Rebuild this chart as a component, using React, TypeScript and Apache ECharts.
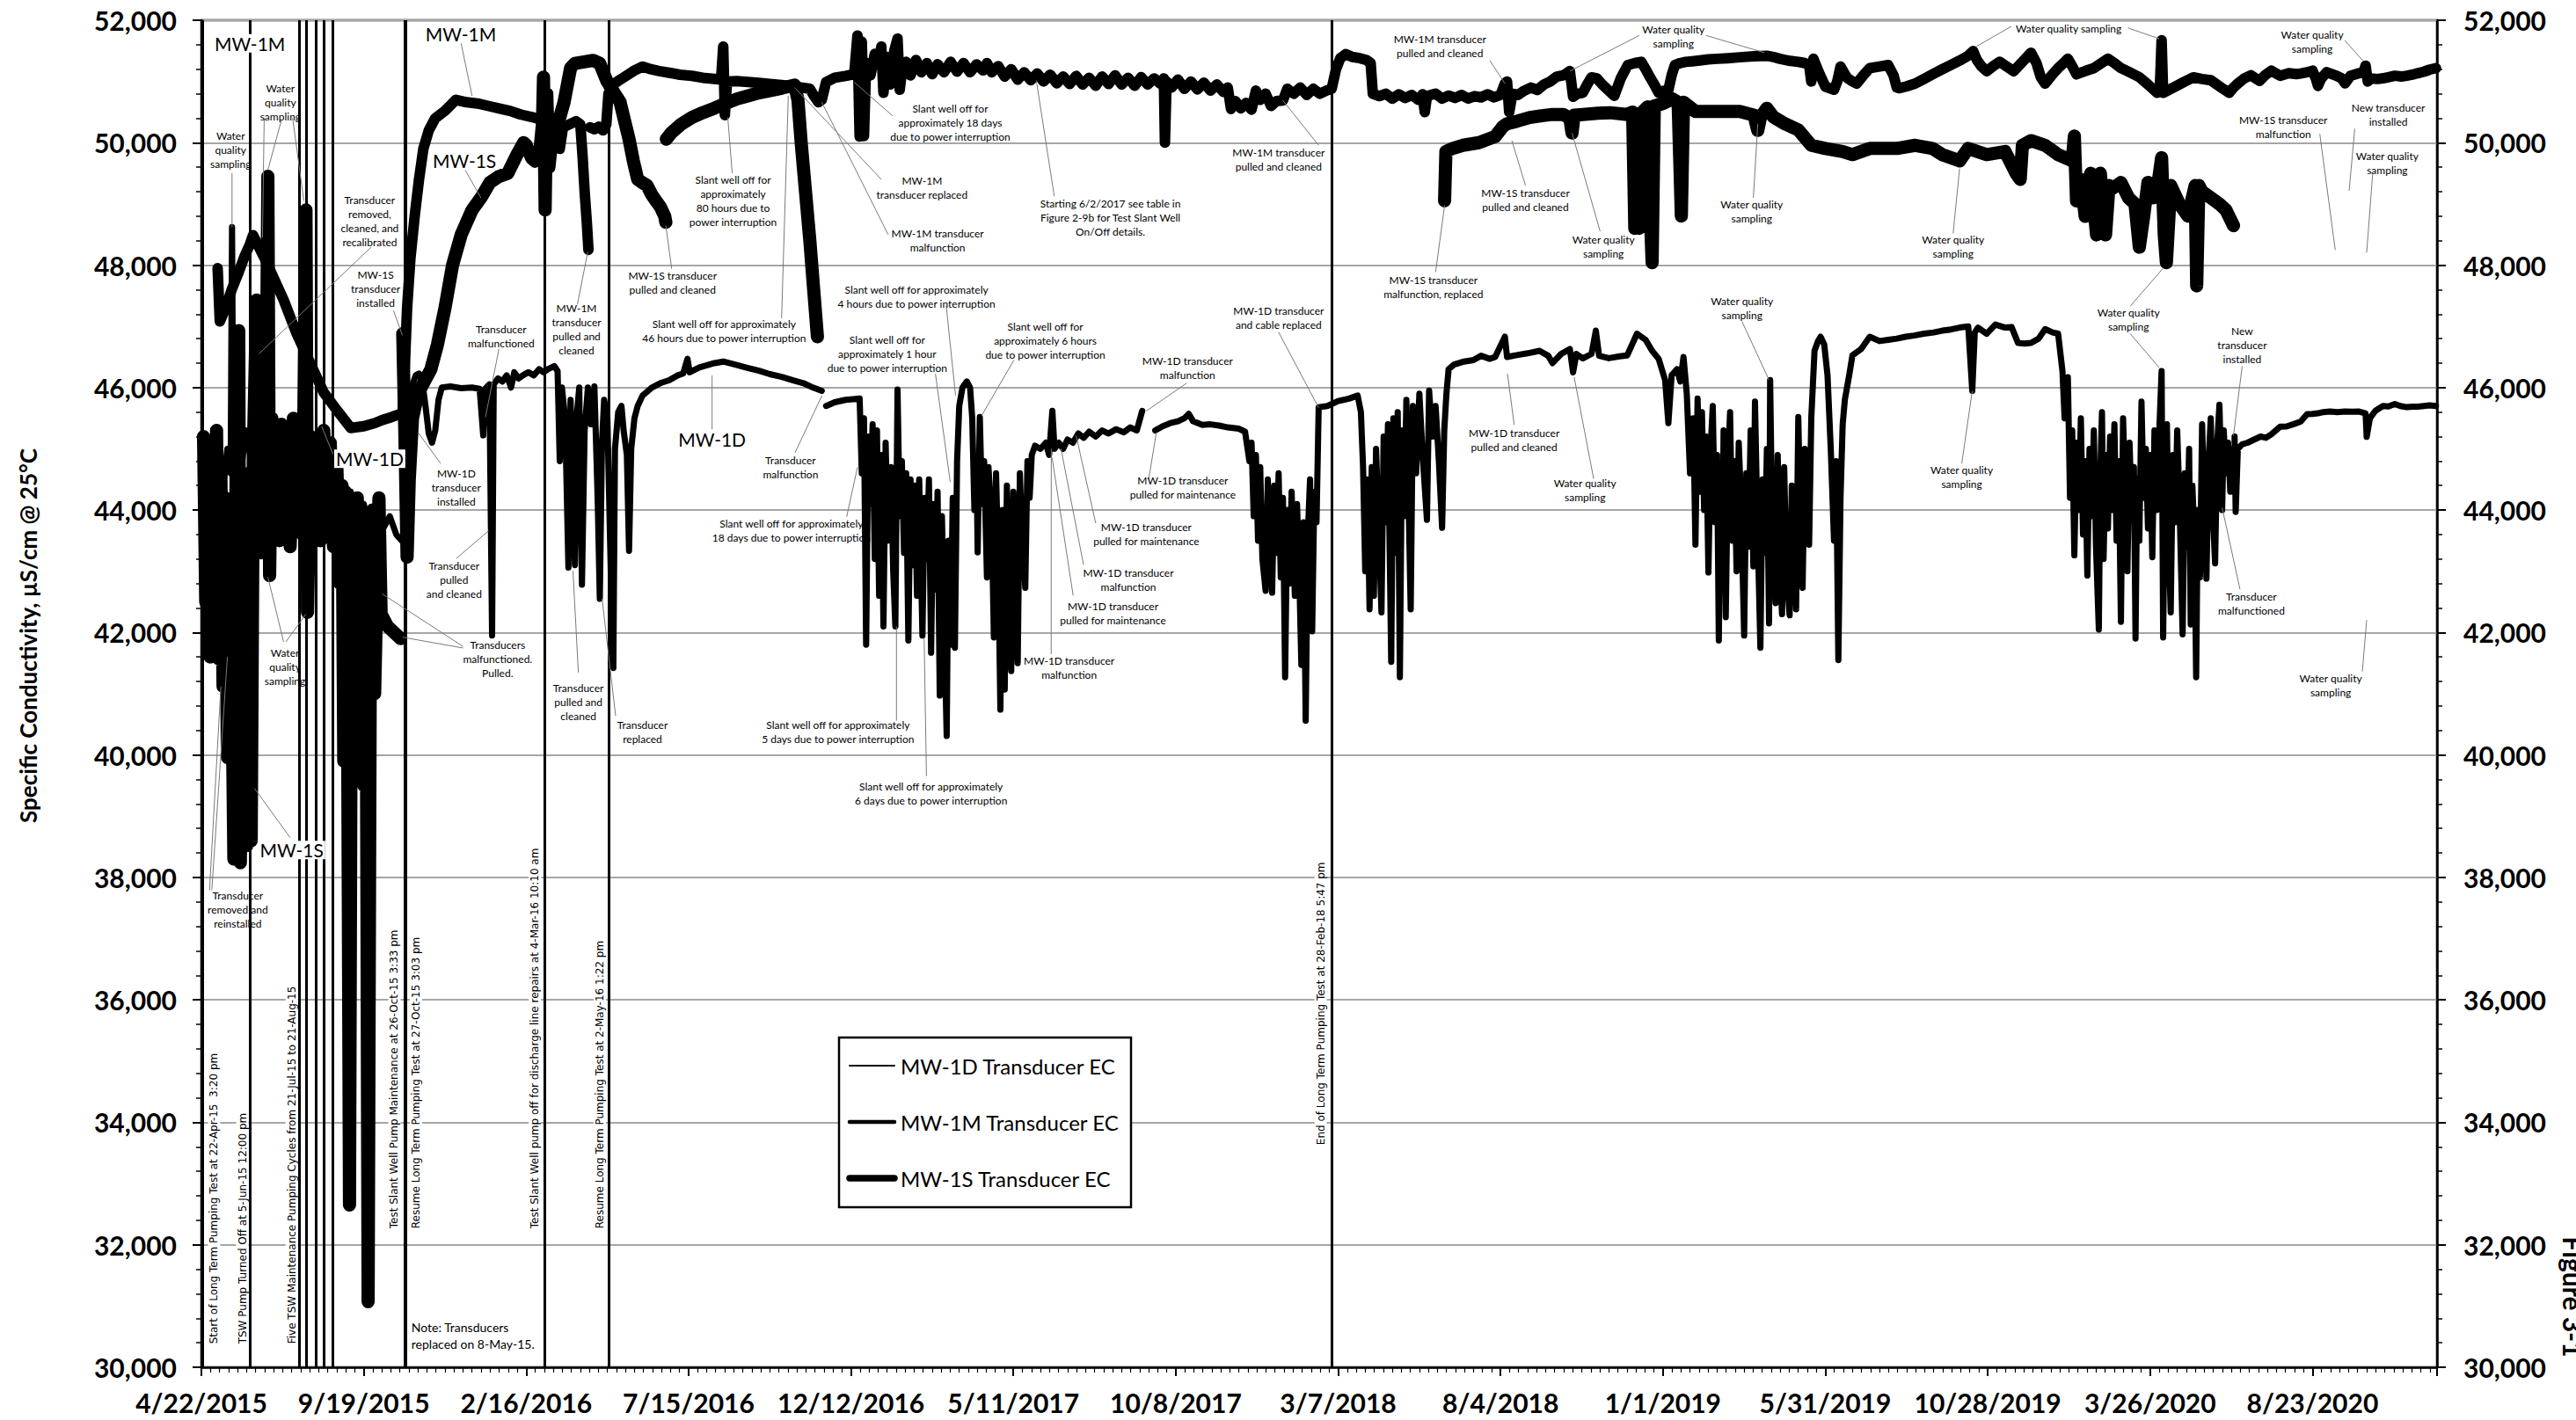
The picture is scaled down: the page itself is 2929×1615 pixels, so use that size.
import React, { useEffect, useRef } from "react";
import * as echarts from "echarts";

// ---------- axis definitions ----------
const TICK_LABELS = [
  "4/22/2015", "9/19/2015", "2/16/2016", "7/15/2016", "12/12/2016", "5/11/2017", "10/8/2017",
  "3/7/2018", "8/4/2018", "1/1/2019", "5/31/2019", "10/28/2019", "3/26/2020", "8/23/2020",
];
const TICK_STEP = 150; // days between date ticks (x is days since 4/22/2015)
const X_MAX = 2065;
const Y_MIN = 30000;
const Y_MAX = 52000;
const Y_STEP = 2000;

const SERIES_NAMES = ["MW-1D Transducer EC", "MW-1M Transducer EC", "MW-1S Transducer EC"];

// ---------- data: [days since 4/22/2015, EC µS/cm] (null = gap) ----------
const MW1D = [
  [2, 44200], [5, 45100], [8, 44300], [11, 45200], [14, 43800], [17, 44900], [20, 44400], [24, 45000], [27, 44600],
  [28.3, 48620], [29.5, 44800], [33, 45200], [37, 44700], [41, 45300], [45, 44900], [50, 45400], [55, 45000],
  [60, 45300], [66, 44800], [72, 45370], [78, 45250], [84, 45100], [90, 45250], [96, 45000], [102, 45150],
  [108, 44900], [114, 45100], [120, 44850], [126, 44600], [132, 43900], [138, 44300], [144, 43600], [150, 44100],
  [156, 43500], [162, 44000], [168, 43700], [174, 43900], [180, 43600], [185, 43500], [186, null],
  [190, 45700], [194, 46000], [198, 46200], [201, 46230], [204, 46100], [207, 45700], [210, 45250], [213, 45100],
  [216, 45300], [219, 45800], [222, 46000], [230, 46020], [240, 45990], [250, 46000], [257, 45980], [260.3, 45220],
  [262, 45980], [266, 46050], [268.5, 41950], [270, 46050], [274, 46150], [278, 46100], [282, 46200], [286, 46000],
  [289, 46250], [293, 46150], [297, 46200], [302, 46250], [307, 46200], [312, 46300], [316, 46250], [320, 46300],
  [326, 46350], [329, 46270], [331, 44800], [333, 46000], [336, 45500], [339, 43060], [341, 45800], [343, 44500],
  [345, 43100], [347, 45600], [349, 46000], [351.5, 42780], [354, 45300], [357, 46000], [360, 45400], [363, 46020],
  [366, 44200], [368, 42550], [370, 45100], [372, 45800], [375, 45500], [378.4, 42780], [379.5, 44500],
  [380.5, 41420], [382, 45000], [385, 45600], [388, 45700], [390, 45300], [393, 44900], [395, 43335], [397, 45000],
  [400, 45500], [403, 45700], [407.5, 45870], [416, 46000], [425, 46080], [432, 46120], [440, 46200], [445, 46230],
  [449, 46470], [451, 46250], [460, 46330], [474, 46400], [482, 46425], [494.5, 46370], [505, 46320], [515, 46275],
  [525, 46220], [536, 46175], [546, 46120], [556, 46072], [565, 46000], [573, 45946], [574, null],
  [577, 45700], [585, 45760], [595, 45800], [602, 45810], [608, 45820],
  [610, 44600], [612, 45500], [614, 41800], [616, 45200], [618, 44100], [620, 45400], [622, 43200], [624, 45300],
  [626, 42600], [628, 44900], [630, 42100], [632, 45100], [634, 43500], [637, 44700], [639, 43000], [641, 42100],
  [643, 45970], [645, 43900], [647, 44800], [649, 43300], [651, 44600], [653, 41870], [655, 44500], [657, 43100],
  [659, 44400], [661, 42600], [663, 44500], [666, 41950], [668, 44200], [670, 43200], [672, 44500], [674, 41670],
  [676, 44100], [678, 42700], [680, 44300], [682, 40970], [684, 43900], [686, 42200], [688.4, 40310], [690, 43500],
  [692, 41800], [694, 44200], [696, 41750], [698, 44800], [700, 45700], [703, 46000], [707, 46100], [710, 46000],
  [712, 45500], [714, 44000], [716, 44800], [717, 43310], [719, 45520], [721, 44100], [723, 44800], [725.6, 42900],
  [727, 44700], [730, 43800], [732, 41920], [734, 44600], [736, 43200], [738, 40740], [740, 44000], [742, 41070],
  [744, 44400], [746, 42500], [748, 41370], [750, 44300], [752, 42300], [754, 41500], [756, 44600], [758, 43600],
  [761, 42730], [763, 44800], [765, 44200], [767, 44900], [770, 45050], [775, 45000], [780, 45100], [783, 44900],
  [786, 45620], [788, 45000], [792, 45100], [796, 45000], [800, 45150], [805, 45100], [810, 45250], [815, 45180],
  [820, 45280], [826, 45200], [832, 45300], [838, 45250], [845, 45320], [852, 45270], [858, 45350], [864, 45300],
  [869, 45620], [870, null],
  [881, 45300], [888, 45370], [895, 45420], [902, 45450], [908, 45500], [912, 45570], [916, 45450], [924.5, 45390],
  [932, 45400], [940, 45380], [948, 45350], [958, 45330], [964, 45280], [968, 44800], [970, 45100], [972, 43900],
  [974, 44900], [976, 43500], [978, 44700], [980, 43200], [983, 42680], [985, 44500], [987, 43600], [989, 42650],
  [991, 44400], [993, 43300], [995, 44600], [997, 42900], [999, 44200], [1001, 41270], [1003, 44000], [1005, 42800],
  [1007, 44300], [1010, 42600], [1012, 44100], [1014, 43000], [1016, 41470], [1018, 43800], [1020, 40560],
  [1022, 43600], [1024, 44500], [1026, 42020], [1028, 44300], [1030, 43800], [1032, 45680], [1040, 45700],
  [1050, 45780], [1060, 45820], [1068, 45870], [1071, 45600], [1073, 44700], [1075, 43000], [1077, 44500],
  [1079, 42380], [1081, 44700], [1083, 42600], [1085, 45000], [1088, 43400], [1090, 42330], [1092, 45200],
  [1094, 43800], [1096, 45400], [1099, 41520], [1101, 45500], [1103, 43300], [1105, 45600], [1107, 41270],
  [1109, 45300], [1111, 43900], [1113, 45800], [1115, 44200], [1117, 42380], [1119, 45700], [1122, 44600],
  [1125, 45900], [1128, 44900], [1132, 43840], [1134, 45950], [1137, 45200], [1140, 45700], [1143, 44800],
  [1146, 43710], [1148, 45300], [1150, 45900], [1152, 46300], [1157, 46375], [1165, 46420], [1175, 46450],
  [1182, 46520], [1190, 46470], [1195, 46500], [1204, 46830], [1206, 46500], [1215, 46530], [1225, 46560],
  [1236, 46600], [1244, 46520], [1248, 46400], [1256, 46550], [1264, 46630], [1267, 46250], [1270, 46550],
  [1276, 46476], [1284, 46550], [1288, 46930], [1291, 46520], [1300, 46480], [1310, 46510], [1317, 46526],
  [1326, 46880], [1334, 46780], [1340, 46600], [1346, 46470], [1352, 46123], [1355, 45420], [1358, 46200],
  [1363, 46300], [1366, 46100], [1369, 46500], [1372, 45900],
  [1375, 44600], [1378, 45500], [1380, 43435], [1382, 45820], [1384, 44300], [1386, 45600], [1388, 44000],
  [1390, 45200], [1392, 42980], [1394, 45000], [1396, 45700], [1398, 43800], [1400, 44900], [1401.6, 41870],
  [1403, 44500], [1405, 43200], [1406, 45300], [1408, 42250], [1410, 44700], [1412, 45600], [1414, 43500],
  [1416, 44800], [1418, 43000], [1420, 45100], [1422, 44200], [1425, 41950], [1427, 44600], [1429, 43400],
  [1431, 45300], [1433.5, 43080], [1435, 45770], [1437, 44000], [1440, 41750], [1442, 44500], [1444, 43300],
  [1446, 45000], [1448, 42150], [1449, 46123], [1451, 43600], [1454, 42480], [1456, 44900], [1458, 43100],
  [1460, 42300], [1462, 44700], [1464, 43000], [1467, 42280], [1469, 44400], [1471, 43600], [1473, 42380],
  [1475, 45520], [1477, 43800], [1479, 42730], [1481, 45000], [1483, 44000], [1485, 43435], [1487, 45500],
  [1490, 46600], [1493, 46750], [1495.6, 46830], [1499, 46700], [1502, 46200], [1505, 45000], [1508, 43500],
  [1510, 44800], [1512, 41550], [1514, 44200], [1516, 45400], [1518, 45800], [1522, 46200], [1525, 46526],
  [1533, 46630], [1541, 46830], [1550, 46760], [1558, 46780], [1566, 46800], [1574, 46830], [1582, 46850],
  [1591, 46880], [1600, 46900], [1608, 46930], [1616, 46950], [1624, 46980], [1632, 47000], [1635.7, 45946],
  [1638, 46900], [1641, 46980], [1649, 46880], [1657, 47030], [1666, 46980], [1672, 46990], [1678, 46728],
  [1684, 46720], [1690, 46730], [1697, 46800], [1703, 46955], [1710, 46900], [1715, 46880], [1719, 46270],
  [1721, 45500], [1724, 46170], [1726, 44200], [1728, 45300], [1730, 43260], [1732, 45100], [1734, 44000],
  [1736, 45500], [1738, 43600], [1740, 44800], [1742, 42930], [1744, 45000], [1746, 43900], [1748, 45300],
  [1750, 43400], [1752.6, 42050], [1754, 44600], [1755.5, 45600], [1757, 43200], [1759, 44900], [1761, 43700],
  [1763, 45200], [1765, 44000], [1767, 45400], [1769, 43500], [1771, 44800], [1773, 42175], [1775, 45500],
  [1777, 44300], [1779, 43000], [1781, 45100], [1783, 43900], [1785, 44700], [1786.5, 41900], [1788, 44500],
  [1790, 43500], [1792, 45770], [1794, 44200], [1796, 45000], [1798, 43700], [1800, 44900], [1802, 43230],
  [1804, 45300], [1806, 44000], [1808, 45100], [1810.6, 46270], [1812, 41920], [1814, 44800], [1815.5, 45400],
  [1817, 43600], [1819, 42330], [1821, 44900], [1823, 43800], [1825, 45300], [1827, 44200], [1830, 41970],
  [1832, 44600], [1834, 43400], [1836, 45000], [1837.5, 42130], [1839, 44400], [1841, 43500], [1842.5, 41270],
  [1844, 44000], [1846, 42900], [1848, 45400], [1850, 44100], [1852, 42880], [1854, 44800], [1856, 45500],
  [1858, 43900], [1860, 43130], [1862, 45100], [1864, 45720], [1866.5, 44000], [1868, 45300], [1870, 44600],
  [1872, 45100], [1874, 44300], [1876, 45000], [1877, null],
  [1878, 45200], [1879, 43970], [1881, 45000], [1885, 45073], [1890, 45100], [1896, 45150], [1902, 45200],
  [1907, 45180], [1912, 45238], [1916, 45300], [1920, 45361], [1926, 45366], [1932, 45400], [1939, 45444],
  [1945, 45567], [1950, 45570], [1955, 45580], [1960, 45600], [1966, 45609], [1973, 45600], [1980, 45610],
  [1987, 45605], [1993, 45609], [1999, 45580], [2000, 45196], [2003, 45500], [2008, 45620], [2015, 45700],
  [2020, 45691], [2026, 45732], [2031, 45700], [2037, 45680], [2043, 45690], [2047, 45690], [2053, 45700],
  [2058, 45710], [2064, 45700],
];

const MW1M = [
  [15, 47950], [17, 47080], [22, 47280], [28, 47600], [34.5, 47890], [40, 48150], [44.8, 48340], [47.7, 48490],
  [53, 48300], [59, 48090], [65.5, 47840], [76, 47430], [88, 46880], [101, 46380], [113, 45920], [125.6, 45620],
  [138, 45340], [150, 45370], [160, 45420], [167, 45470], [176, 45520], [183.6, 45570], [186, 45600], [188, 46400],
  [190, 47300], [193, 48100], [197, 48800], [201, 49400], [205, 49900], [210, 50200], [216, 50400], [225, 50520],
  [235, 50700], [245, 50660], [255, 50640], [265, 50600], [275, 50560], [285, 50520], [295, 50460], [305, 50420],
  [313, 50380], [318, 50300], [322, 50150], [325, 50350], [328, 50200], [331, 49900], [334, 50250], [340, 50300],
  [346, 50350], [350, 50300], [352, 49800], [354, 49200], [356, 48700], [357.5, 48250], [358, null],
  [359, 50250], [363, 50220], [367, 50260], [371, 50200], [374, 50300], [376, 50800], [380, 50950], [386, 51020],
  [393, 51100], [400, 51180], [407.5, 51243], [415, 51200], [423, 51170], [432, 51142], [442, 51110], [453, 51092],
  [463, 51060], [474, 51041], [480, 51030], [482, 51570], [483.5, 50450], [485.5, 51000], [494.5, 51006],
  [505, 50990], [515, 50976], [525, 50960], [536, 50940], [548, 50915], [555, 50900], [562, 50880], [566, 50760],
  [570, 50660], [573, 50700], [577, 50990], [585, 51060], [595, 51090], [603, 51120], [606, 51750], [608, 50100],
  [610, 51650], [612, 50108], [614, 51300], [618, 51100], [622, 51450], [626, 51300], [628, 51570], [630, 50815],
  [633, 51400], [636, 50950], [640, 51500], [643, 51700], [645, 50865], [648, 51300], [651, 51320], [655, 51100],
  [660, 51350], [665, 51150], [670, 51300], [675, 51120], [680, 51280], [686, 51150], [692, 51320], [698, 51160],
  [704, 51300], [710, 51150], [716, 51280], [722, 51180], [725.6, 51300], [730, 51150], [736, 51250], [742, 51080],
  [748, 51200], [754, 51030], [760, 51150], [766, 51020], [772, 51130], [778, 51000], [784, 51110], [790, 50970],
  [796, 51080], [802, 50960], [808, 51090], [814, 50950], [820, 51060], [826, 50930], [832, 51080], [838, 50960],
  [844, 51100], [850, 50950], [856, 51060], [862, 50930], [868, 51070], [874, 50950], [880, 51050], [886, 50960],
  [889, 51050], [890, 50000], [891.5, 51000], [896, 50900], [902, 51030], [908, 50880], [914, 51000], [920, 50870],
  [926, 50980], [932, 50850], [938, 50950], [944, 50830], [948, 50900], [951, 50550], [955, 50680], [960, 50560],
  [965, 50650], [970, 50540], [974, 50850], [978, 50700], [983, 50800], [988, 50600], [993, 50680], [999, 50690],
  [1003, 50880], [1009, 50800], [1015, 50900], [1021, 50780], [1027, 50880], [1033, 50800], [1039, 50850],
  [1044, 50880], [1048, 51200], [1052, 51380], [1057, 51445], [1063, 51400], [1070, 51380], [1076, 51350],
  [1080, 51300], [1082, 50800], [1088, 50760], [1094, 50800], [1100, 50720], [1106, 50790], [1112, 50730],
  [1118, 50780], [1124, 50700], [1128, 50790], [1130, 50500], [1132, 50760], [1140, 50800], [1146, 50720],
  [1152, 50770], [1158, 50730], [1164, 50780], [1170, 50720], [1176, 50760], [1182, 50740], [1188, 50790],
  [1194, 50740], [1200, 50780], [1204, 50966], [1206, 51000], [1208, 50500], [1211, 50800], [1216, 50780],
  [1222, 50850], [1228, 50900], [1234, 50860], [1240, 50950], [1246, 51000], [1252, 51080], [1258, 51100],
  [1264, 51170], [1267, 50750], [1271, 50800], [1276, 50814], [1280, 50950], [1284, 51067], [1289, 51050],
  [1294, 50950], [1300, 50850], [1305, 50764], [1311, 51050], [1317.5, 51268], [1324, 51300], [1330, 51320],
  [1334, 51200], [1338, 51070], [1342, 50950], [1346, 50814], [1351, 50850], [1355, 50860], [1358, 51100],
  [1361, 51268], [1366, 51300], [1371, 51320], [1377, 51330], [1384, 51344], [1392, 51360], [1400, 51370],
  [1410, 51380], [1421, 51395], [1434, 51410], [1446, 51420], [1452, 51400], [1458, 51370], [1466, 51340],
  [1475, 51320], [1481, 51300], [1485, 51270], [1487, 51000], [1489, 51370], [1494, 51150], [1500, 50915],
  [1504, 50890], [1508, 50865], [1511, 51000], [1514, 51243], [1517, 51150], [1520, 51060], [1525, 51000],
  [1529, 50966], [1535, 51100], [1541, 51218], [1549, 51240], [1558, 51268], [1563, 51100], [1566, 50900],
  [1568, 50890], [1575, 50920], [1583, 50966], [1591, 51040], [1599, 51117], [1607, 51190], [1616, 51268],
  [1624, 51340], [1632, 51420], [1636.5, 51496], [1640, 51350], [1644, 51250], [1649, 51168], [1655, 51250],
  [1661, 51320], [1667, 51250], [1674, 51168], [1682, 51320], [1690, 51470], [1695, 51300], [1699, 51070],
  [1703, 50966], [1709, 51100], [1715, 51218], [1720, 51300], [1724, 51370], [1728, 51250], [1732, 51117],
  [1740, 51170], [1748, 51218], [1755, 51300], [1761, 51370], [1767, 51300], [1773, 51218], [1781, 51150],
  [1790, 51070], [1798, 50950], [1806.5, 50814], [1809, 50900], [1810.6, 51672], [1812, 50814], [1817, 50860],
  [1823, 50915], [1831, 50990], [1840, 51067], [1848, 51040], [1856, 51020], [1864, 50920], [1873, 50814],
  [1877, 50900], [1881, 50966], [1887, 51050], [1893, 51100], [1901, 51010], [1906, 51100], [1912, 51175],
  [1920, 51093], [1928, 51134], [1935, 51120], [1939, 51130], [1945, 51150], [1950, 51175], [1953, 51050],
  [1955, 50928], [1958, 51050], [1963, 51150], [1972, 51093], [1977, 51050], [1980, 50969], [1985, 51093],
  [1993, 51134], [1997, 51150], [1999, 51258], [2001, 51000], [2004, 51050], [2010, 51040], [2015, 51052],
  [2020, 51070], [2026, 51093], [2032, 51080], [2037, 51093], [2042, 51110], [2047, 51134], [2053, 51160],
  [2058, 51192], [2064, 51217],
];

const MW1S = [
  [2, 45200], [4, 42500], [6, 45000], [8, 41600], [10, 44800], [12, 41800], [14, 45300], [16, 41570], [18, 44600],
  [20, 41120], [22, 44200], [24, 39960], [26, 43800], [28, 41500], [30, 38300], [32, 44500], [34.5, 46930],
  [36, 38240], [38, 44000], [40, 41500], [42, 38520], [44, 44600], [46, 38600], [48, 45000], [51, 47430],
  [53, 44800], [55, 43300], [57, 45200], [59, 43600], [61.4, 49450], [63, 42930], [65, 45500], [67, 43700],
  [69, 45300], [72, 43500], [74, 45400], [77, 43800], [80, 45200], [82, 43400], [85, 45500], [88, 43900],
  [91, 45300], [93.5, 43600], [96.6, 48900], [98, 42330], [101, 45200], [104, 43700], [107, 45000], [110, 43500],
  [113, 45300], [116, 43900], [119, 45100], [122, 43400], [125, 44800], [128, 42800], [130, 44400], [131.5, 39900],
  [133, 44300], [135, 40800], [136.8, 32650], [138.5, 42000], [140, 44000], [142, 40900], [144, 44200],
  [146, 40500], [148, 43800], [150, 39500], [152, 43000], [154, 31070], [156, 41500], [158, 44000], [160, 41000],
  [162, 42630], [164, 44200], [166, 42300], [172, 42100], [178, 42000], [184, 41900], [185, null],
  [186, 46880], [188, 45200], [190, 43230], [192, 44500], [195, 45500], [200, 45900], [206, 46100], [212, 46300],
  [218, 46700], [225, 47300], [232, 48000], [240, 48500], [250, 48900], [258.2, 49100], [266.5, 49350],
  [275, 49450], [283, 49500], [291.4, 49800], [297.6, 50000], [300, 49960], [305, 49750], [308, 49700],
  [312, 49750], [315, 50300], [316, 51070], [317.5, 48900], [319, 50800], [321, 49600], [324, 50100],
  [330, 50350], [335, 50663], [341, 51218], [345, 51294], [353.5, 51319], [361.8, 51344], [368, 51294],
  [372, 51117], [374.3, 51016], [380, 50850], [386.7, 50663], [391, 50350], [395, 50058], [399, 49700],
  [403, 49402], [407, 49350], [411.6, 49301], [416, 49150], [419.9, 49049], [424, 48950], [428, 48796],
  [429, 48700], [429.2, null],
  [429.5, 50058], [434, 50160], [443, 50300], [453, 50411], [463, 50490], [474, 50565], [484, 50640],
  [494.5, 50713], [505, 50765], [515, 50814], [525, 50850], [536, 50890], [548, 50940], [551, 50700],
  [554, 50000], [558, 49200], [562, 48400], [566, 47500], [569, 46830], [570, null],
  [1148.3, 49050], [1149.5, 49856], [1155, 49900], [1165, 49957], [1180, 50000], [1195, 50100], [1202, 50260],
  [1206, 50310], [1215, 50350], [1227, 50411], [1238, 50440], [1248, 50461], [1258, 50460], [1264, 50400],
  [1266, 50158], [1268, 50450], [1276, 50461], [1290, 50480], [1301, 50490], [1317, 50461], [1322, 50500],
  [1324, 48600], [1326, 50200], [1328, 48600], [1331, 50500], [1336, 50587], [1338, 49000], [1340, 48040],
  [1342, 50600], [1350, 50640], [1359, 50714], [1364, 50660], [1367, 48800], [1369, 50660], [1380, 50511],
  [1400, 50511], [1421, 50511], [1434, 50450], [1437.6, 50200], [1440, 50411], [1446, 50562], [1452, 50420],
  [1462.5, 50310], [1475, 50209], [1487, 49957], [1500, 49906], [1516, 49856], [1525, 49805], [1541, 49906],
  [1566, 49906], [1583, 49957], [1599, 49906], [1608, 49805], [1624, 49705], [1632, 49906], [1649, 49805],
  [1666, 49856], [1676, 49503], [1680, 49400], [1682, 49957], [1690, 50033], [1703, 49957], [1715, 49805],
  [1728, 49705], [1730, 50108], [1732, 49050], [1736, 49400], [1740, 48796], [1745, 49500], [1750.5, 48494],
  [1754, 49500], [1758.8, 48494], [1762, 49300], [1765, 49250], [1773, 49350], [1780, 49100], [1786, 49000],
  [1790, 48293], [1794, 48796], [1798, 49350], [1803, 49100], [1807, 49300], [1810.6, 49755], [1813, 48500],
  [1815, 48040], [1819, 49300], [1827, 49000], [1835, 48800], [1841.6, 49300], [1843, 47661], [1845, 49300],
  [1848, 49200], [1856, 49100], [1864, 48998], [1870, 48900], [1877, 48645],
];

// ---------- event lines (days since 4/22/2015) ----------
const EVENT_DAYS = [0.64, 44.5, 90, 97, 106, 113, 121, 187.65, 188.63, 317.42, 376.56, 1043.74];
const EVENT_LABELS = [
  { text: "Start of Long Term Pumping Test at 22-Apr-15  3:20 pm", d: 11.7, v: 30340 },
  { text: "TSW Pump Turned Off at 5-Jun-15 12:00 pm", d: 37.8, v: 30340 },
  { text: "Five TSW Maintenance Pumping Cycles from 21-Jul-15 to 21-Aug-15", d: 83.4, v: 30340 },
  { text: "Test Slant Well Pump Maintenance at 26-Oct-15 3:33 pm", d: 178.3, v: 32222 },
  { text: "Resume Long Term Pumping Test at 27-Oct-15 3:03 pm", d: 198.2, v: 32222 },
  { text: "Test Slant Well pump off for discharge line repairs at 4-Mar-16 10:10 am", d: 308, v: 32222 },
  { text: "Resume Long Term Pumping Test at 2-May-16 1:22 pm", d: 368, v: 32222 },
  { text: "End of Long Term Pumping Test at 28-Feb-18 5:47 pm", d: 1033.8, v: 33588 },
];

// ---------- series name labels ----------
const BIG_LABELS = [
  { text: "MW-1M", d: 44.8, v: 51622 },
  { text: "MW-1M", d: 239.6, v: 51773 },
  { text: "MW-1S", d: 243, v: 49705 },
  { text: "MW-1S", d: 83.4, v: 38446 },
  { text: "MW-1D", d: 155.5, v: 44836 },
  { text: "MW-1D", d: 471.7, v: 45164 },
];

// ---------- annotation notes ----------
const NOTES = [
  { text: "Water\nquality\nsampling", d: 27, v: 49881 },
  { text: "Water\nquality\nsampling", d: 73, v: 50663 },
  { text: "Transducer\nremoved,\ncleaned, and\nrecalibrated", d: 155.5, v: 48720 },
  { text: "MW-1S\ntransducer\ninstalled", d: 160.9, v: 47611 },
  { text: "Transducer\nmalfunctioned", d: 276.9, v: 46839 },
  { text: "MW-1M\ntransducer\npulled and\ncleaned", d: 346.5, v: 46955 },
  { text: "MW-1S transducer\npulled and cleaned", d: 435.2, v: 47712 },
  { text: "Slant well off for\napproximately\n80 hours due to\npower interruption", d: 491.1, v: 49049 },
  { text: "Slant well off for approximately\n46 hours due to power interruption", d: 482.8, v: 46930 },
  { text: "Transducer\nmalfunction", d: 544.2, v: 44695 },
  { text: "MW-1D\ntransducer\ninstalled", d: 235.5, v: 44368 },
  { text: "Transducer\npulled\nand cleaned", d: 233.4, v: 42856 },
  { text: "Transducers\nmalfunctioned.\nPulled.", d: 273.6, v: 41561 },
  { text: "Water\nquality\nsampling", d: 77.2, v: 41435 },
  { text: "Transducer\nremoved and\nreinstalled", d: 33.6, v: 37478 },
  { text: "Transducer\npulled and\ncleaned", d: 348.2, v: 40870 },
  { text: "Transducer\nreplaced", d: 407.4, v: 40371 },
  { text: "Slant well off for approximately\n18 days due to power interruption", d: 545, v: 43662 },
  { text: "Slant well off for approximately\n5 days due to power interruption", d: 588, v: 40375 },
  { text: "Slant well off for approximately\n6 days due to power interruption", d: 674, v: 39376 },
  { text: "Slant well off for approximately\n4 hours due to power interruption", d: 660.5, v: 47490 },
  { text: "Slant well off for\napproximately 1 hour\ndue to power interruption", d: 633.5, v: 46548 },
  { text: "Slant well off for\napproximately 6 hours\ndue to power interruption", d: 779.5, v: 46763 },
  { text: "MW-1D transducer\nmalfunction", d: 910.9, v: 46324 },
  { text: "MW-1D transducer\npulled for maintenance", d: 906.5, v: 44372 },
  { text: "MW-1D transducer\npulled for maintenance", d: 872.8, v: 43612 },
  { text: "MW-1D transducer\nmalfunction", d: 856.2, v: 42866 },
  { text: "MW-1D transducer\npulled for maintenance", d: 842, v: 42317 },
  { text: "MW-1D transducer\nmalfunction", d: 801.5, v: 41430 },
  { text: "Starting 6/2/2017 see table in\nFigure 2-9b for Test Slant Well\nOn/Off details.", d: 839.6, v: 48771 },
  { text: "Slant well off for\napproximately 18 days\ndue to power interruption", d: 691.7, v: 50325 },
  { text: "MW-1M\ntransducer replaced", d: 665.6, v: 49261 },
  { text: "MW-1M transducer\nmalfunction", d: 680, v: 48403 },
  { text: "MW-1M transducer\npulled and cleaned", d: 995, v: 49720 },
  { text: "MW-1M transducer\npulled and cleaned", d: 1144, v: 51581 },
  { text: "MW-1S transducer\nmalfunction, replaced", d: 1138, v: 47646 },
  { text: "MW-1S transducer\npulled and cleaned", d: 1223, v: 49064 },
  { text: "MW-1D transducer\nand cable replaced", d: 995, v: 47137 },
  { text: "MW-1D transducer\npulled and cleaned", d: 1212.6, v: 45139 },
  { text: "Water quality\nsampling", d: 1295, v: 48300 },
  { text: "Water quality\nsampling", d: 1278, v: 44318 },
  { text: "Water quality\nsampling", d: 1359.7, v: 51733 },
  { text: "Water quality\nsampling", d: 1432, v: 48882 },
  { text: "Water quality\nsampling", d: 1618, v: 48302 },
  { text: "Water quality sampling", d: 1724.8, v: 51864 },
  { text: "Water quality\nsampling", d: 1423, v: 47293 },
  { text: "Water quality\nsampling", d: 1626, v: 44544 },
  { text: "Water quality\nsampling", d: 1780, v: 47106 },
  { text: "New\ntransducer\ninstalled", d: 1885, v: 46693 },
  { text: "Transducer\nmalfunctioned", d: 1893.5, v: 42478 },
  { text: "MW-1S transducer\nmalfunction", d: 1923, v: 50262 },
  { text: "New transducer\ninstalled", d: 2020, v: 50458 },
  { text: "Water quality\nsampling", d: 2019, v: 49666 },
  { text: "Water quality\nsampling", d: 1949.7, v: 51654 },
  { text: "Water quality\nsampling", d: 1966.8, v: 41130 },
];

// leader lines: [fromDay, fromValue, toDay, toValue]
const LEADERS = [
  [239.6, 51647, 250, 50764], [243.7, 49553, 258.2, 49099], [82.1, 38648, 49, 39455], [121.5, 44912, 111.1, 45366],
  [471.7, 45315, 471.7, 46198], [28.3, 49503, 28.3, 48620], [58, 50400, 56.4, 48450], [73.8, 50360, 61.4, 49553],
  [84.2, 50410, 94.6, 49050], [156.7, 48292, 53.1, 46551], [177.4, 47258, 185.7, 46854], [274.8, 46627, 262.4, 45518],
  [347.3, 47359, 356.9, 48216], [434.4, 47939, 429, 48645], [490.3, 49503, 486.2, 50411], [535.9, 47132, 542.1, 50764],
  [548.3, 44937, 573.2, 45870], [221, 44760, 200.2, 45265], [235.5, 43209, 265.3, 43662], [241.7, 41772, 167.1, 42629],
  [241.7, 41747, 185.7, 41923], [75.9, 41848, 61.4, 42906], [78, 41848, 96.6, 42301], [7.5, 37791, 18, 41120],
  [9.6, 37791, 24, 41600], [348.2, 41344, 343.2, 43007], [382.6, 40638, 370.1, 42553], [596, 43889, 606, 44700],
  [642, 40560, 642, 42100], [669.7, 39655, 667.6, 41898], [688, 47333, 696.6, 45870], [678, 46224, 691.7, 44458],
  [750.5, 46450, 720.7, 45542], [910, 46072, 872.8, 45618], [875, 44500, 882, 45265], [826, 43788, 808, 45215],
  [814.8, 43108, 794, 45000], [805.2, 42604, 785.7, 44860], [784.9, 41646, 785, 45000], [787.8, 49124, 771.2, 51016],
  [638.6, 50436, 603, 50987], [628, 49400, 548, 50900], [634.5, 48494, 573, 50663], [1032, 49957, 999, 50688],
  [1190, 51344, 1204, 50966], [1140, 47888, 1148.3, 48973], [1223, 49301, 1210.5, 50033], [995, 46905, 1032, 45669],
  [1212.6, 45390, 1206.4, 46224], [1292, 48550, 1266, 50158], [1286, 44510, 1268, 46170], [1328, 51750, 1264, 51170],
  [1390, 51750, 1443.8, 51470], [1433.5, 49100, 1437.6, 50310], [1618, 48519, 1624, 49578], [1671.8, 51899, 1639.4, 51571],
  [1779.5, 51874, 1808.5, 51697], [1423, 47081, 1448, 46123], [1626, 44760, 1635.7, 45946], [1781.6, 47330, 1811.5, 47939],
  [1781.6, 46880, 1808.5, 46324], [1885, 46350, 1877, 45215], [1883, 42705, 1866.5, 44040], [1956.7, 50144, 1971, 48247],
  [1989, 50227, 1983.8, 49213], [2005.5, 49485, 2000, 48206], [1979.7, 51670, 1996.5, 51340], [1996, 41362, 2000, 42203],
];

const NOTE_TEXT = { text: "Note: Transducers\nreplaced on 8-May-15.", d: 194, v: 30512 };

function thousands(v: number): string {
  return String(Math.round(v)).replace(/\B(?=(\d{3})+(?!\d))/g, ",");
}

function lineSeries(name: string, data: any[], width: number, extra: any = {}) {
  return {
    name,
    type: "line",
    data,
    symbol: "none",
    showSymbol: false,
    connectNulls: false,
    silent: true,
    emphasis: { disabled: true },
    lineStyle: { color: "#000", width, join: "round", cap: "round" },
    z: 3,
    ...extra,
  };
}

function buildOption() {
  const yAxisBase = {
    type: "value",
    min: Y_MIN,
    max: Y_MAX,
    interval: Y_STEP,
    axisLine: { show: true, lineStyle: { color: "#000", width: 2.5 } },
    axisTick: { show: true, length: 10, lineStyle: { color: "#000", width: 2 } },
    minorTick: { show: true, splitNumber: 5, length: 6, lineStyle: { color: "#000", width: 1.5 } },
    axisLabel: {
      formatter: (v: number) => thousands(v),
      fontFamily: "Lato",
      fontWeight: "bold",
      fontSize: 30,
      color: "#000",
      margin: 28,
    },
  };
  return {
    animation: false,
    backgroundColor: "#fff",
    grid: {
      left: 229,
      right: 158,
      top: 23,
      bottom: 60,
      show: true,
      borderColor: "#000",
      borderWidth: 2.5,
      backgroundColor: "transparent",
    },
    xAxis: {
      type: "value",
      min: 0,
      max: X_MAX,
      interval: TICK_STEP,
      axisLine: { show: true, lineStyle: { color: "#000", width: 2.5 } },
      axisTick: { show: true, length: 10, lineStyle: { color: "#000", width: 2 } },
      minorTick: { show: true, splitNumber: 18, length: 6, lineStyle: { color: "#000", width: 1.2 } },
      splitLine: { show: false },
      axisLabel: {
        showMaxLabel: false,
        formatter: (v: number) => {
          const i = Math.round(v / TICK_STEP);
          return Math.abs(v - i * TICK_STEP) < 1e-6 && TICK_LABELS[i] ? TICK_LABELS[i] : "";
        },
        fontFamily: "Lato",
        fontWeight: "bold",
        fontSize: 30,
        color: "#000",
        margin: 25,
      },
    },
    yAxis: [
      { ...yAxisBase, position: "left", splitLine: { show: true, lineStyle: { color: "#a6a6a6", width: 2 } } },
      { ...yAxisBase, position: "right", splitLine: { show: false }, axisLabel: { ...yAxisBase.axisLabel, margin: 30 } },
    ],
    series: [
      lineSeries(SERIES_NAMES[2], MW1S, 15),
      lineSeries(SERIES_NAMES[1], MW1M, 12),
      lineSeries(SERIES_NAMES[0], MW1D, 7, {
        markLine: {
          silent: true,
          symbol: ["none", "none"],
          animation: false,
          label: { show: false },
          emphasis: { disabled: true },
          lineStyle: { color: "#000", width: 3, type: "solid" },
          data: EVENT_DAYS.map((d) => ({ xAxis: d })),
        },
      }),
    ],
  };
}

function textEl(x: number, y: number, text: string, font: string, extra: any = {}, styleExtra: any = {}) {
  return {
    type: "text",
    x,
    y,
    z: 100,
    silent: true,
    ...extra,
    style: {
      text,
      font,
      fill: "#000",
      align: "center",
      verticalAlign: "middle",
      textAlign: "center",
      textVerticalAlign: "middle",
      ...styleExtra,
    },
  };
}

export default function App() {
  const ref = useRef<HTMLDivElement>(null);

  useEffect(() => {
    const el = ref.current;
    if (!el) return;
    const chart = echarts.init(el, null, { renderer: "svg" });
    chart.setOption(buildOption());

    const px = (d: number, v: number): number[] =>
      chart.convertToPixel({ seriesIndex: 0 }, [d, v]) as number[];

    const elements: any[] = [];

    // leader lines
    LEADERS.forEach(([d1, v1, d2, v2]) => {
      const [x1, y1] = px(d1, v1);
      const [x2, y2] = px(d2, v2);
      elements.push({
        type: "line",
        z: 90,
        silent: true,
        shape: { x1, y1, x2, y2 },
        style: { stroke: "#7a7a7a", lineWidth: 1 },
      });
    });

    // annotation notes
    NOTES.forEach((n) => {
      const [x, y] = px(n.d, n.v);
      elements.push(textEl(x, y, n.text, "12px Lato", {}, { lineHeight: 16 }));
    });

    // big series labels
    BIG_LABELS.forEach((n) => {
      const [x, y] = px(n.d, n.v);
      elements.push(textEl(x, y, n.text, "21px Lato", {}, { backgroundColor: "#fff", padding: [0, 2] }));
    });

    // rotated event labels
    EVENT_LABELS.forEach((n) => {
      const [x, y] = px(n.d, n.v);
      elements.push(
        textEl(x, y, n.text, "12px 'DejaVu Sans'", { rotation: Math.PI / 2 }, {
          align: "left",
          textAlign: "left",
          backgroundColor: "#fff",
          padding: [1, 3],
        })
      );
    });

    // note
    {
      const [x, y] = px(NOTE_TEXT.d, NOTE_TEXT.v);
      elements.push(textEl(x, y, NOTE_TEXT.text, "14px Lato", {}, { align: "left", textAlign: "left", lineHeight: 19 }));
    }

    // legend box
    const LX = 954, LY = 1180, LW = 332, LH = 193;
    elements.push({
      type: "rect",
      z: 95,
      silent: true,
      shape: { x: LX, y: LY, width: LW, height: LH },
      style: { fill: "#fff", stroke: "#000", lineWidth: 2.5 },
    });
    const legendWidths = [2, 4.5, 7.5];
    SERIES_NAMES.forEach((name, i) => {
      const cy = LY + 32 + i * 64;
      elements.push({
        type: "line",
        z: 96,
        silent: true,
        shape: { x1: LX + 12, y1: cy, x2: LX + 63, y2: cy },
        style: { stroke: "#000", lineWidth: legendWidths[i], lineCap: "round" },
      });
      elements.push(textEl(LX + 70, cy, name, "24px Lato", { z: 96 }, { align: "left", textAlign: "left" }));
    });

    // axis title
    elements.push(
      textEl(32, 723, "Specific Conductivity, µS/cm @ 25°C", "bold 26px Lato", { rotation: Math.PI / 2 })
    );
    // figure number (clipped at right edge)
    elements.push(textEl(2926, 1475, "Figure 3-1", "bold 30px Lato", { rotation: -Math.PI / 2 }));

    chart.setOption({ graphic: { elements } });

    return () => {
      chart.dispose();
    };
  }, []);

  return (
    <div
      ref={ref}
      style={{ position: "fixed", left: 0, top: 0, width: 2929, height: 1615, background: "#fff" }}
    />
  );
}
